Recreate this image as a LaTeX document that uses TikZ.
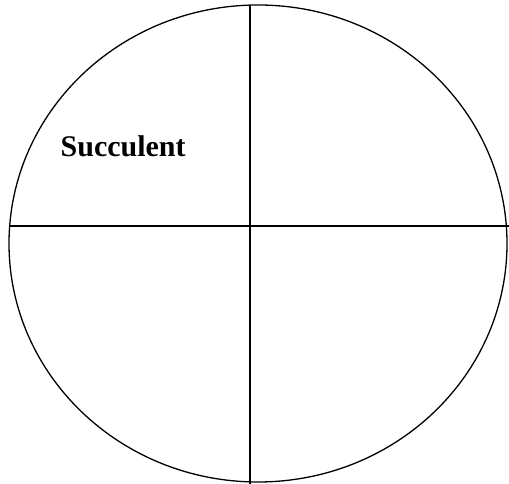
\documentclass[tikz,border=0pt]{standalone}
\usepackage{fontspec}
\setmainfont{Liberation Serif}
\usetikzlibrary{shapes.geometric}
\begin{document}
\begin{tikzpicture}[x=1pt,y=1pt,line width=1.3pt,
  lbl/.style={font=\fontsize{30}{36}\selectfont\bfseries, inner sep=0pt, anchor=base west}]
\useasboundingbox (0,0) rectangle (509,484);
\node[draw, ellipse, minimum width=498pt, minimum height=477pt, inner sep=0pt, line width=1.3pt] (e) at (258,240.5) {};
\coordinate (top) at (250,479);
\coordinate (bot) at (250,0);
\coordinate (left) at (9.5,258);
\coordinate (right) at (509,258);
\draw (top) -- (bot);
\draw (left) -- (right);
\node[lbl] (s) at (60,327) {Succulent};
\end{tikzpicture}
\end{document}
